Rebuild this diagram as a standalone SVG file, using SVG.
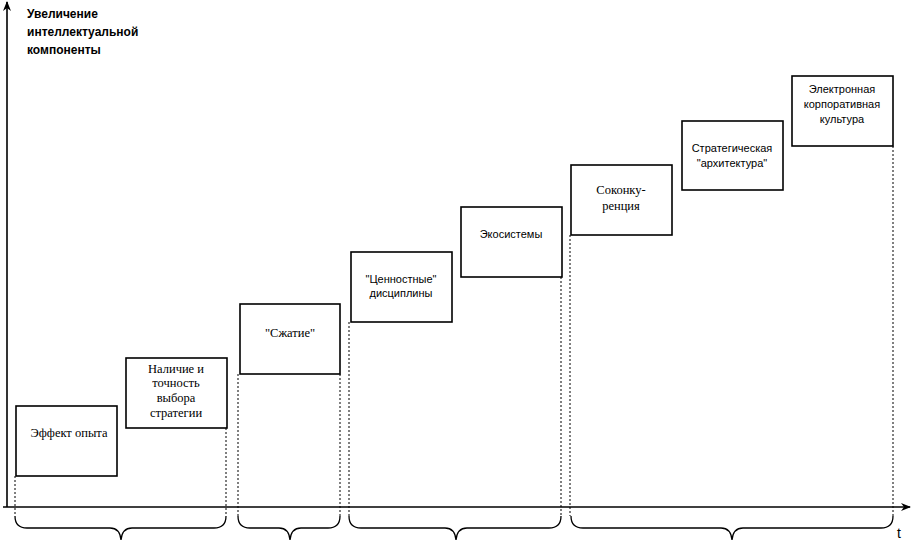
<svg xmlns="http://www.w3.org/2000/svg" width="912" height="541" viewBox="0 0 912 541">
<style>
.box{fill:#fff;stroke:#000;stroke-width:1.6}
.ax{stroke:#000;stroke-width:1.6;fill:none}
.dot{stroke:#000;stroke-width:1;stroke-dasharray:2 2;fill:none}
.br{stroke:#000;stroke-width:1.3;fill:none}
.ts{font-family:"Times New Roman","Liberation Serif",serif;font-size:12.5px;text-anchor:middle;fill:#000}
.tn{font-family:"Liberation Sans",Arial,sans-serif;font-size:11px;text-anchor:middle;fill:#000}
.lab{font-family:"Liberation Sans",Arial,sans-serif;font-size:12px;font-weight:bold;fill:#000}
</style>
<defs>
<marker id="ah" markerWidth="10" markerHeight="8" refX="9" refY="4" orient="auto" markerUnits="userSpaceOnUse">
<path d="M0,0 L10,4 L0,8 L3,4 Z" fill="#000"/>
</marker>
</defs>
<rect width="912" height="541" fill="#fff"/>
<g id="connectors">
<line class="ax" x1="7" y1="507" x2="7" y2="2" marker-end="url(#ah)"/>
<line class="ax" x1="3" y1="507" x2="910" y2="507" marker-end="url(#ah)"/>
<line class="dot" x1="15" y1="476" x2="15" y2="516"/>
<line class="dot" x1="226" y1="428" x2="226" y2="516"/>
<line class="dot" x1="238" y1="374" x2="238" y2="516"/>
<line class="dot" x1="340" y1="374" x2="340" y2="516"/>
<line class="dot" x1="349" y1="322" x2="349" y2="516"/>
<line class="dot" x1="561" y1="277" x2="561" y2="516"/>
<line class="dot" x1="570" y1="235" x2="570" y2="516"/>
<line class="dot" x1="893" y1="146" x2="893" y2="516"/>
<path class="br" d="M15 516 Q15 528 27 528 L110 528 Q120 528 121 540 Q122 528 132 528 L214 528 Q226 528 226 516"/>
<path class="br" d="M238 516 Q238 528 250 528 L279 528 Q289 528 290 540 Q291 528 301 528 L328 528 Q340 528 340 516"/>
<path class="br" d="M349 516 Q349 528 361 528 L445 528 Q455 528 456 540 Q457 528 467 528 L549 528 Q561 528 561 516"/>
<path class="br" d="M571 516 Q571 528 583 528 L721 528 Q731 528 732 540 Q733 528 743 528 L881 528 Q893 528 893 516"/>
</g>
<g id="axis-label">
<text class="lab" x="27" y="18">Увеличение</text>
<text class="lab" x="27" y="36">интеллектуальной</text>
<text class="lab" x="27" y="54">компоненты</text>
<text x="897" y="538" style="font-family:'Liberation Sans',Arial,sans-serif;font-size:14px">t</text>
</g>
<g id="n1">
<rect class="box" x="16" y="406" width="101" height="70"/>
<text class="ts" x="69" y="437">Эффект опыта</text>
</g>
<g id="n2">
<rect class="box" x="126" y="358" width="101" height="70"/>
<text class="ts" x="176" y="373">Наличие и</text>
<text class="ts" x="176" y="387">точность</text>
<text class="ts" x="176" y="402">выбора</text>
<text class="ts" x="176" y="417">стратегии</text>
</g>
<g id="n3">
<rect class="box" x="240" y="304" width="100" height="70"/>
<text class="ts" x="290" y="337">"Сжатие"</text>
</g>
<g id="n4">
<rect class="box" x="351" y="252" width="101" height="70"/>
<text class="tn" x="401" y="283">"Ценностные"</text>
<text class="tn" x="401" y="297">дисциплины</text>
</g>
<g id="n5">
<rect class="box" x="461" y="207" width="101" height="70"/>
<text class="tn" x="511" y="238">Экосистемы</text>
</g>
<g id="n6">
<rect class="box" x="571" y="165" width="101" height="70"/>
<text class="ts" x="621" y="194">Соконку-</text>
<text class="ts" x="621" y="210">ренция</text>
</g>
<g id="n7">
<rect class="box" x="682" y="121" width="101" height="69"/>
<text class="tn" x="732" y="152">Стратегическая</text>
<text class="tn" x="732" y="167">"архитектура"</text>
</g>
<g id="n8">
<rect class="box" x="792" y="76" width="101" height="70"/>
<text class="tn" x="842" y="93">Электронная</text>
<text class="tn" x="842" y="108">корпоративная</text>
<text class="tn" x="842" y="123">культура</text>
</g>
</svg>
